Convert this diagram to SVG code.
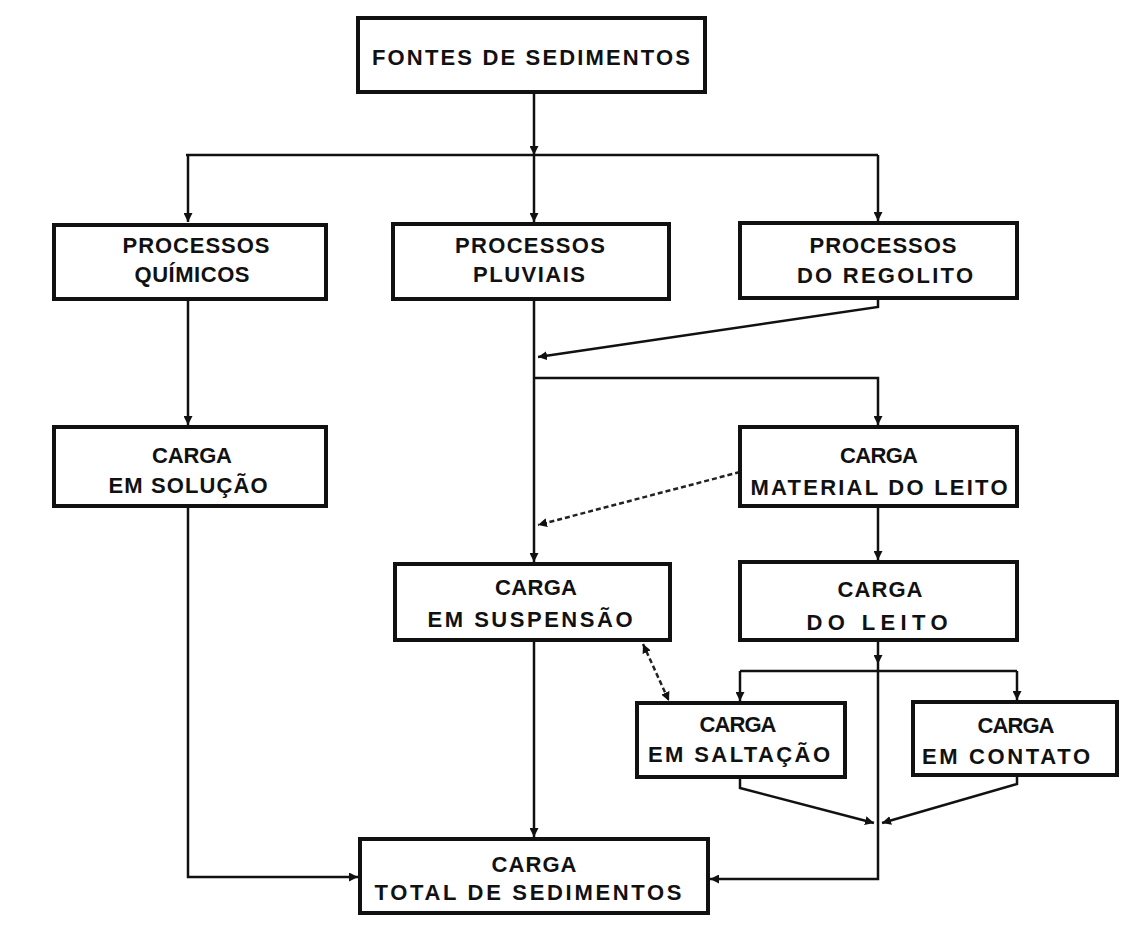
<svg xmlns="http://www.w3.org/2000/svg" width="1137" height="928" viewBox="0 0 1137 928">
<style>
.box{fill:#fff;stroke:#111;stroke-width:4}
.t{font-family:"Liberation Sans",Arial,sans-serif;font-weight:bold;font-size:22px;fill:#111;text-anchor:middle}
.c{fill:none;stroke:#111;stroke-width:2.5}
.d{fill:none;stroke:#222;stroke-width:2.5;stroke-dasharray:5 3}
</style>
<defs>
<marker id="a" viewBox="0 0 10 10" refX="10" refY="5" markerWidth="9" markerHeight="9" markerUnits="userSpaceOnUse" orient="auto-start-reverse">
<path d="M0,0 L10,5 L0,10 z" fill="#111"/>
</marker>
</defs>
<rect width="1137" height="928" fill="#fff"/>
<g id="connectors">
<path class="c" d="M186,155 H878"/>
<path class="c" d="M534,92 V155" marker-end="url(#a)"/>
<path class="c" d="M534,155 V222" marker-end="url(#a)"/>
<path class="c" d="M188,155 V222" marker-end="url(#a)"/>
<path class="c" d="M878,155 V221" marker-end="url(#a)"/>
<path class="c" d="M188,299 V425" marker-end="url(#a)"/>
<path class="c" d="M534,299 V562" marker-end="url(#a)"/>
<path class="c" d="M878,298 V307 L538,357" marker-end="url(#a)"/>
<path class="c" d="M534,378 H878 V425" marker-end="url(#a)"/>
<path class="d" d="M740,472 L538,525" marker-end="url(#a)"/>
<path class="c" d="M878,506 V560" marker-end="url(#a)"/>
<path class="c" d="M188,506 V877 H358" marker-end="url(#a)"/>
<path class="c" d="M534,640 V837" marker-end="url(#a)"/>
<path class="c" d="M878,640 V664" marker-end="url(#a)"/>
<path class="c" d="M878,664 V879 H710" marker-end="url(#a)"/>
<path class="c" d="M740,671 H1017"/>
<path class="c" d="M740,671 V701" marker-end="url(#a)"/>
<path class="c" d="M1017,671 V700" marker-end="url(#a)"/>
<path class="c" d="M740,777 V788 L874,823" marker-end="url(#a)"/>
<path class="c" d="M1017,775 V784 L882,823" marker-end="url(#a)"/>
<path class="d" d="M643,644 L669,701" marker-start="url(#a)" marker-end="url(#a)"/>
</g>
<g id="fontes">
<rect class="box" x="358" y="18" width="347" height="74"/>
<text class="t" x="531" y="65" textLength="318" lengthAdjust="spacing">FONTES DE SEDIMENTOS</text>
</g>
<g id="quimicos">
<rect class="box" x="54" y="225" width="272" height="74"/>
<text class="t" x="196" y="253" textLength="147" lengthAdjust="spacing">PROCESSOS</text>
<text class="t" x="192" y="282" textLength="115" lengthAdjust="spacing">QUÍMICOS</text>
</g>
<g id="pluviais">
<rect class="box" x="393" y="224" width="276" height="75"/>
<text class="t" x="530" y="253" textLength="150" lengthAdjust="spacing">PROCESSOS</text>
<text class="t" x="529" y="282" textLength="112" lengthAdjust="spacing">PLUVIAIS</text>
</g>
<g id="regolito">
<rect class="box" x="740" y="223" width="277" height="75"/>
<text class="t" x="883" y="253" textLength="147" lengthAdjust="spacing">PROCESSOS</text>
<text class="t" x="885" y="283" textLength="176" lengthAdjust="spacing">DO  REGOLITO</text>
</g>
<g id="solucao">
<rect class="box" x="54" y="427" width="272" height="79"/>
<text class="t" x="192" y="463" textLength="80" lengthAdjust="spacing">CARGA</text>
<text class="t" x="188" y="493" textLength="159" lengthAdjust="spacing">EM SOLUÇÃO</text>
</g>
<g id="material">
<rect class="box" x="740" y="427" width="277" height="79"/>
<text class="t" x="879" y="463" textLength="78" lengthAdjust="spacing">CARGA</text>
<text class="t" x="879" y="495" textLength="257" lengthAdjust="spacing">MATERIAL DO LEITO</text>
</g>
<g id="suspensao">
<rect class="box" x="395" y="564" width="275" height="76"/>
<text class="t" x="536" y="595" textLength="82" lengthAdjust="spacing">CARGA</text>
<text class="t" x="530" y="627" textLength="205" lengthAdjust="spacing">EM SUSPENSÃO</text>
</g>
<g id="leito">
<rect class="box" x="740" y="562" width="277" height="78"/>
<text class="t" x="880" y="597" textLength="85" lengthAdjust="spacing">CARGA</text>
<text class="t" x="877" y="630" textLength="141" lengthAdjust="spacing">DO  LEITO</text>
</g>
<g id="saltacao">
<rect class="box" x="637" y="703" width="208" height="74"/>
<text class="t" x="738" y="732" textLength="77" lengthAdjust="spacing">CARGA</text>
<text class="t" x="739" y="762" textLength="182" lengthAdjust="spacing">EM SALTAÇÃO</text>
</g>
<g id="contato">
<rect class="box" x="913" y="702" width="204" height="73"/>
<text class="t" x="1016" y="733" textLength="77" lengthAdjust="spacing">CARGA</text>
<text class="t" x="1006" y="764" textLength="168" lengthAdjust="spacing">EM  CONTATO</text>
</g>
<g id="total">
<rect class="box" x="360" y="839" width="348" height="74"/>
<text class="t" x="534" y="872" textLength="85" lengthAdjust="spacing">CARGA</text>
<text class="t" x="528" y="900" textLength="307" lengthAdjust="spacing">TOTAL  DE  SEDIMENTOS</text>
</g>
</svg>
